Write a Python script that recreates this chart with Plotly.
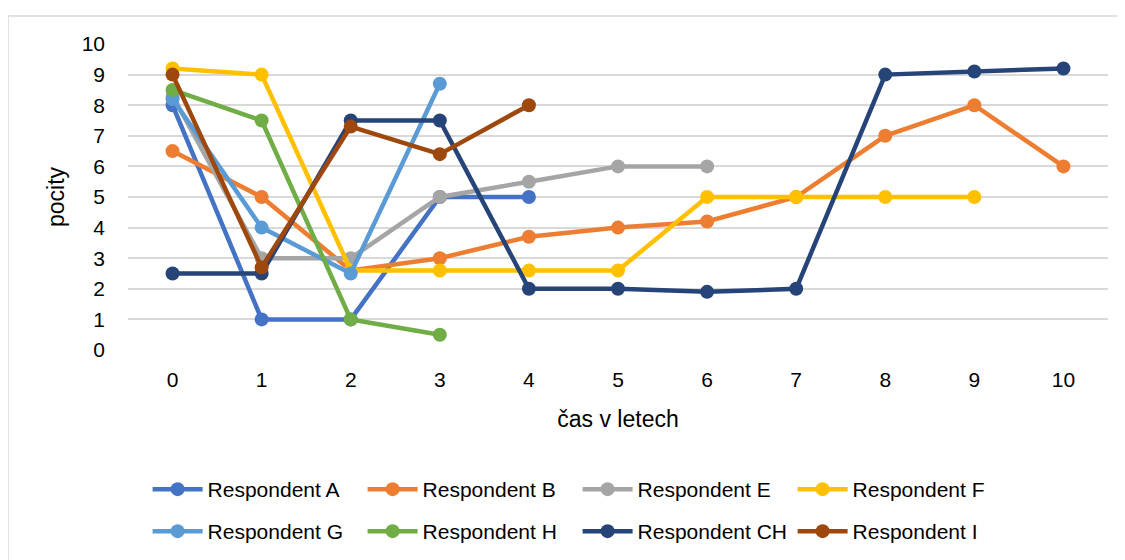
import plotly.graph_objects as go

years = [0, 1, 2, 3, 4, 5, 6, 7, 8, 9, 10]
tick_labels = ["0", "1", "2", "3", "4", "5", "6", "7", "8", "9", "10"]

resp_a = [8, 1, 1, 5, 5]
resp_b = [6.5, 5, 2.6, 3, 3.7, 4, 4.2, 5, 7, 8, 6]
resp_e = [8.3, 3, 3, 5, 5.5, 6, 6]
resp_f = [9.2, 9, 2.6, 2.6, 2.6, 2.6, 5, 5, 5, 5]
resp_g = [8.2, 4, 2.5, 8.7]
resp_h = [8.5, 7.5, 1, 0.5]
resp_ch = [2.5, 2.5, 7.5, 7.5, 2, 2, 1.9, 2, 9, 9.1, 9.2]
resp_i = [9, 2.7, 7.3, 6.4, 8]

series = [
    ("Respondent A", resp_a, "#4472C4", "legend"),
    ("Respondent B", resp_b, "#ED7D31", "legend"),
    ("Respondent E", resp_e, "#A5A5A5", "legend"),
    ("Respondent F", resp_f, "#FFC000", "legend"),
    ("Respondent G", resp_g, "#5B9BD5", "legend2"),
    ("Respondent H", resp_h, "#70AD47", "legend2"),
    ("Respondent CH", resp_ch, "#264478", "legend2"),
    ("Respondent I", resp_i, "#9E480E", "legend2"),
]

fig = go.Figure()
for name, vals, color, leg in series:
    fig.add_trace(go.Scatter(
        x=years[:len(vals)], y=vals, name=name, mode="lines+markers",
        line=dict(color=color, width=4.5),
        marker=dict(color=color, size=14),
        legend=leg,
    ))

# page body adds an 8px offset; compensate
W, H = 1117, 552
L, T, R, B = 120, 36, 17, 210
ph = H - T - B
pw = W - L - R

font = "Liberation Sans"
legend_common = dict(
    orientation="h", x=0.02, xanchor="left", yanchor="top",
    entrywidth=150, entrywidthmode="pixels", itemwidth=50,
    font=dict(size=21), bgcolor="rgba(0,0,0,0)",
)
fig.update_layout(
    width=W, height=H,
    margin=dict(l=L, r=R, t=T, b=B, autoexpand=False),
    paper_bgcolor="white", plot_bgcolor="white",
    font=dict(family=font, size=20, color="#000000"),
    xaxis=dict(
        range=[-0.5, 10.5], tickmode="array", tickvals=years, ticktext=tick_labels,
        showgrid=False, zeroline=False, showline=False, ticks="",
        ticklabelstandoff=15,
        title=dict(text="čas v letech", font=dict(size=23), standoff=20),
        tickfont=dict(size=21),
    ),
    yaxis=dict(
        range=[0, 10], dtick=1, showgrid=True, gridcolor="#D9D9D9", gridwidth=1.5,
        zeroline=False, showline=False, ticks="",
        ticklabelstandoff=22,
        title=dict(text="pocity", font=dict(size=23), standoff=10),
        tickfont=dict(size=21),
    ),
    legend=dict(y=-(469 - 350) / ph, **legend_common),
    legend2=dict(y=-(511 - 350) / ph, **legend_common),
    shapes=[dict(
        type="rect", xref="paper", yref="paper",
        x0=(8 - 128) / pw, x1=(1140 - 128) / pw,
        y0=-(580 - 350) / ph, y1=(350 - 16) / ph,
        line=dict(color="#D9D9D9", width=1.5), fillcolor="rgba(0,0,0,0)",
    )],
)

fig.write_html("out.html")
